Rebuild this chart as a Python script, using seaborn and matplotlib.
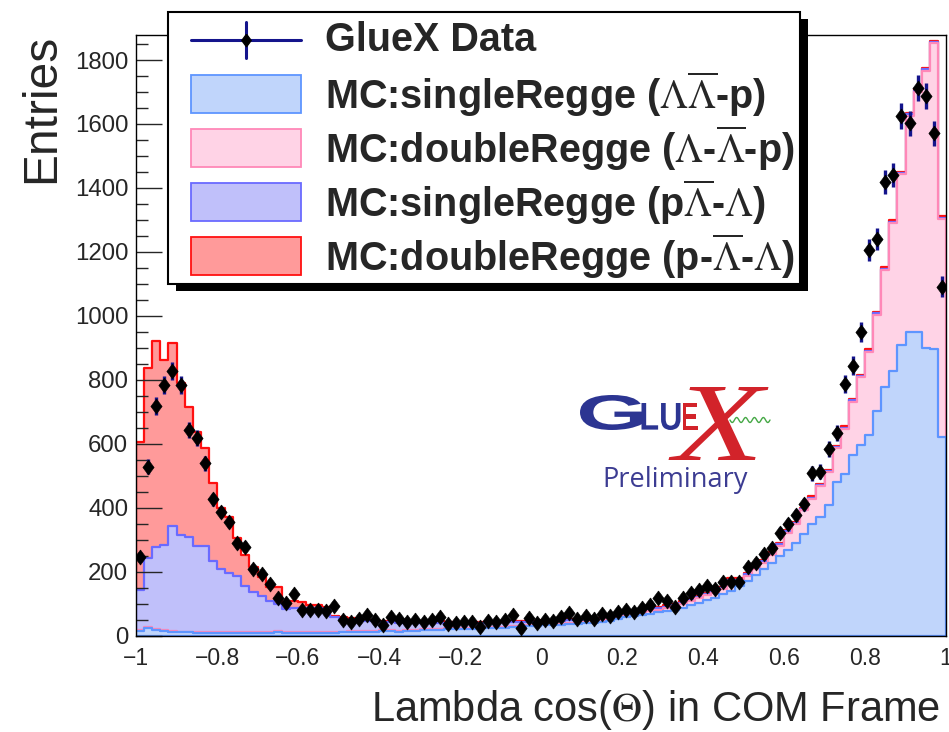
import numpy as np
import pandas as pd
import matplotlib
matplotlib.use("Agg")
import matplotlib.pyplot as plt
import seaborn as sns
from matplotlib.patches import Rectangle, PathPatch
from matplotlib.lines import Line2D
from matplotlib.ticker import MultipleLocator
from matplotlib.textpath import TextPath
from matplotlib.font_manager import FontProperties
from matplotlib.transforms import Affine2D

# ---------------- data ----------------
bin_low, bin_high, n_bins = -1.0, 1.0, 100

single_LLbar_p = [
    17, 24, 19, 17, 14, 11, 11, 10, 10, 10, 9, 9, 8, 8, 8, 8, 8, 14, 8,
    8, 8, 9, 9, 10, 10, 11, 12, 12, 13, 14, 15, 15, 13, 16, 17, 18, 20, 20, 21, 22, 22,
    23, 24, 25, 25, 26, 27, 28, 30, 31, 33, 34, 35, 37, 38, 40, 42, 45, 48, 52,
    58, 62, 66, 70, 74, 78, 82, 88, 96, 104, 112, 120, 130, 142, 156, 172,
    190, 208, 229, 250, 268, 292, 318, 350, 372, 408, 481, 506, 567, 597, 628, 704,
    778, 828, 910, 951, 951, 900, 898, 622]

double_L_Lbar_p = [3] * 41 + [
    3, 3, 3, 3, 3, 3, 3, 3, 3, 4, 4, 4, 4, 4, 4, 5, 5, 5, 5,
    6, 6, 7, 7, 8, 10, 11, 12, 13, 14, 15, 15, 16, 30, 16, 17, 18, 21, 24,
    32, 55, 57, 75, 78, 96, 104, 105, 141, 165, 212, 260, 300, 366, 463, 533,
    675, 749, 867, 954, 681]

single_pLbar_L = [
    124, 216, 257, 264, 327, 302, 296, 268, 268, 222, 196, 186, 176, 145, 128, 114, 99, 83, 72,
    77, 77, 74, 74, 72, 47, 36, 33, 33, 31, 30, 26, 25, 26, 23, 21, 20, 17, 17, 16, 15, 15,
    16, 15, 13, 15, 14, 14, 13, 12, 11, 10, 9, 9, 8, 8, 6, 5, 4, 4, 4] + [4] * 40

double_p_Lbar_L = [
    461, 594, 644, 578, 571, 474, 407, 356, 306, 242, 191, 175, 118, 97, 78, 60, 44, 52, 24,
    22, 19, 11, 11, 7, 2, 10, 7, 4, 3, 3, 4, 5, 5, 5, 5, 5, 6, 6, 5, 5, 5] + [3] * 19 + [4] * 40

gluex_data = [
    248, 529, 719, 783, 829, 784, 644, 618, 540, 427, 388, 357, 290, 279, 208, 194, 162, 120, 104,
    130, 80, 80, 82, 78, 95, 49, 45, 53, 66, 50, 34, 58, 52, 45, 50, 45, 50, 58, 37,
    40, 45, 45, 27, 48, 45, 50, 66, 24, 55, 42, 50, 48, 58,
    73, 54, 62, 52, 68, 62, 76, 81, 76, 86, 97, 118, 110, 92, 118, 133, 144, 156, 146,
    170, 170, 170, 217, 229, 257,
    274, 323, 350, 378, 411, 508, 514, 585, 634, 788, 845, 951, 1206, 1240, 1420, 1440,
    1625, 1602, 1712, 1688, 1571, 1092]

series_labels = [
    r"MC:singleRegge ($\Lambda\overline{\Lambda}$-p)",
    r"MC:doubleRegge ($\Lambda$-$\overline{\Lambda}$-p)",
    r"MC:singleRegge (p$\overline{\Lambda}$-$\Lambda$)",
    r"MC:doubleRegge (p-$\overline{\Lambda}$-$\Lambda$)",
]
data_label = "GlueX Data"
x_ticks = [-1, -0.8, -0.6, -0.4, -0.2, 0, 0.2, 0.4, 0.6, 0.8, 1]
x_tick_labels = ["\u22121", "\u22120.8", "\u22120.6", "\u22120.4", "\u22120.2", "0",
                 "0.2", "0.4", "0.6", "0.8", "1"]
y_ticks = [0, 200, 400, 600, 800, 1000, 1200, 1400, 1600, 1800]
x_title = r"Lambda cos($\Theta$) in COM Frame"
y_title = "Entries"

fill_colors = ["#c0d5fb", "#ffd3e6", "#c0c0fa", "#ff9a9a"]
edge_colors = ["#5e95ff", "#ff88b8", "#6a6aff", "#ff1010"]
err_color = "#14148c"

for arr in (single_LLbar_p, double_L_Lbar_p, single_pLbar_L, double_p_Lbar_L, gluex_data):
    assert len(arr) == n_bins, len(arr)

# ---------------- style ----------------
sns.set_style("white")
plt.rcParams["font.family"] = ["Liberation Sans", "DejaVu Sans"]
plt.rcParams["mathtext.fontset"] = "stix"
plt.rcParams["axes.unicode_minus"] = True

W, H = 949, 732
fig = plt.figure(figsize=(W / 100, H / 100), dpi=100)
ax_left, ax_right, ax_top, ax_bottom = 136, 946, 35, 636
ax = fig.add_axes([ax_left / W, 1 - ax_bottom / H, (ax_right - ax_left) / W,
                   (ax_bottom - ax_top) / H])

edges = np.linspace(bin_low, bin_high, n_bins + 1)
centers = 0.5 * (edges[:-1] + edges[1:])
components = np.vstack([single_LLbar_p, double_L_Lbar_p, single_pLbar_L, double_p_Lbar_L]).astype(float)
stacked = np.cumsum(components, axis=0)

df = pd.DataFrame({"cos_theta": centers, "data": np.array(gluex_data, float)})
for i in range(4):
    df[f"stack{i}"] = stacked[i]

# ROOT-like THStack: cumulative histograms drawn from the top layer down
for i in reversed(range(4)):
    sns.histplot(data=df, x="cos_theta", weights=f"stack{i}", bins=n_bins,
                 binrange=(bin_low, bin_high),
                 element="step", fill=True, color=fill_colors[i],
                 edgecolor=edge_colors[i], linewidth=1.6, alpha=1.0, ax=ax, zorder=2)

ax.errorbar(df["cos_theta"], df["data"], yerr=np.sqrt(df["data"]), fmt="none",
            ecolor=err_color, elinewidth=2.4, capsize=0, zorder=4)
diamond = [(0, 1), (0.75, 0), (0, -1), (-0.75, 0), (0, 1)]
sns.scatterplot(data=df, x="cos_theta", y="data", marker=diamond, s=118, color="black",
                edgecolor="black", linewidth=0.4, zorder=5, ax=ax, legend=False)

ax.set_xlim(bin_low, bin_high)
ax.set_ylim(0, (ax_bottom - ax_top) * 3.125)
ax.set_xlabel("")
ax.set_ylabel("")
ax.set_xticks(x_ticks)
ax.set_xticklabels(x_tick_labels)
ax.set_yticks(y_ticks)
ax.yaxis.set_minor_locator(MultipleLocator(50))
ax.tick_params(axis="y", which="major", direction="in", length=18.5, width=1.0,
               labelsize=17.3, pad=5.5, left=True, right=False)
ax.tick_params(axis="y", which="minor", direction="in", length=8.5, width=1.0,
               left=True, right=False)
ax.tick_params(axis="x", which="both", length=0, labelsize=16.5, pad=8)
for sp in ax.spines.values():
    sp.set_linewidth(1.0)
    sp.set_color("black")
    sp.set_zorder(6)
ax.set_axisbelow(False)


def px(x, y):
    return (x / W, 1 - y / H)


# axis titles
fig.text(*px(940, 710), x_title, ha="right", va="center", fontsize=30)
fig.text(*px(42, 34), y_title, ha="center", va="top", rotation=90, fontsize=34.5)

# ---------------- legend (ROOT TLegend with shadow) ----------------
lx0, ly0, lx1, ly1 = 168, 12, 800, 284
shadow = Rectangle(px(lx0 + 8, ly1 + 7), (lx1 - lx0) / W, (ly1 - ly0) / H,
                   transform=fig.transFigure, facecolor="black", edgecolor="none", zorder=10)
box = Rectangle(px(lx0, ly1), (lx1 - lx0) / W, (ly1 - ly0) / H,
                transform=fig.transFigure, facecolor="white", edgecolor="black",
                linewidth=1.5, zorder=11)
fig.add_artist(shadow)
fig.add_artist(box)

row_y = [40, 94, 148, 202, 256]
sym_x0, sym_x1, text_x = 191, 301, 325
fig.add_artist(Line2D([sym_x0 / W, sym_x1 / W], [1 - row_y[0] / H] * 2, transform=fig.transFigure,
                      color=err_color, linewidth=2.2, zorder=12))
mid = 0.5 * (sym_x0 + sym_x1)
fig.add_artist(Line2D([mid / W] * 2, [1 - (row_y[0] - 18) / H, 1 - (row_y[0] + 18) / H],
                      transform=fig.transFigure, color=err_color, linewidth=2.2, zorder=12))
fig.add_artist(Line2D([mid / W], [1 - row_y[0] / H], transform=fig.transFigure,
                      marker=diamond, markersize=9, color="black", linestyle="none", zorder=13))
fig.text(*px(text_x, row_y[0]), data_label, ha="left", va="center", fontsize=28.5,
         fontweight="bold", zorder=13)
for i in range(4):
    y = row_y[i + 1]
    fig.add_artist(Rectangle(px(sym_x0, y + 19), (sym_x1 - sym_x0) / W, 38 / H,
                             transform=fig.transFigure, facecolor=fill_colors[i],
                             edgecolor=edge_colors[i], linewidth=1.3, zorder=12))
    fig.text(*px(text_x, y), series_labels[i], ha="left", va="center", fontsize=28.5,
             fontweight="bold", zorder=13)

# ---------------- GlueX Preliminary logo ----------------
navy, red_logo = "#2c3592", "#d2232a"


def logo_glyphs(s, cx, cy, width, height, color, prop):
    tp = TextPath((0, 0), s, size=100, prop=prop)
    bb = tp.get_extents()
    sx = width / bb.width
    sy = height / bb.height
    tr = (Affine2D().translate(-(bb.x0 + bb.x1) / 2, -(bb.y0 + bb.y1) / 2)
          .scale(sx / W, sy / H).translate(cx / W, 1 - cy / H) + fig.transFigure)
    fig.add_artist(PathPatch(tp, transform=tr, facecolor=color, edgecolor="none", zorder=3))


bold_sans = FontProperties(family="Liberation Sans", weight="bold")
serif_it = FontProperties(family="Liberation Serif", style="italic")
logo_glyphs("G", 611, 412.5, 62, 35, navy, bold_sans)
logo_glyphs("LU", 661, 416.5, 39, 27, navy, bold_sans)
logo_glyphs("E", 690, 416.5, 15, 27, red_logo, bold_sans)
logo_glyphs("X", 718.5, 423.5, 100, 73, red_logo, serif_it)
wx = np.linspace(730, 770, 80)
wy = 420 + 2.5 * np.sin((wx - 730) / 40 * 2 * np.pi * 4.5)
fig.add_artist(Line2D(wx / W, 1 - wy / H, transform=fig.transFigure, color="#45a845",
                      linewidth=1.0, zorder=4))
fig.text(*px(675, 480), "Preliminary", ha="center", va="center", fontsize=19.5,
         color="#3c3c92", family=["Open Sans", "DejaVu Sans"])

fig.savefig("out.png", dpi=100)
